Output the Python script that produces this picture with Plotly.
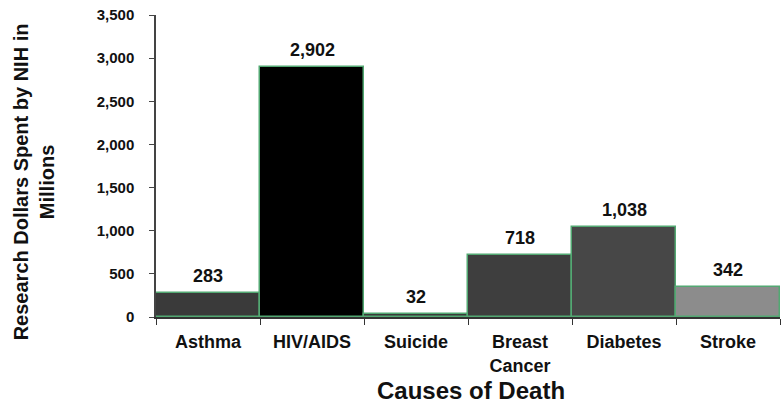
import plotly.graph_objects as go

categories = ["Asthma", "HIV/AIDS", "Suicide", "Breast Cancer", "Diabetes", "Stroke"]
tick_labels = ["Asthma", "HIV/AIDS", "Suicide", "Breast<br>Cancer", "Diabetes", "Stroke"]
values = [283, 2902, 32, 718, 1038, 342]
value_labels = ["283", "2,902", "32", "718", "1,038", "342"]
bar_colors = ["#3a3a3a", "#000000", "#3a3a3a", "#3e3e3e", "#474747", "#8c8c8c"]
x_title = "Causes of Death"
y_title = "Research Dollars Spent by NIH in<br>Millions"

FONT = "Liberation Sans, Arial, sans-serif"

fig = go.Figure()
fig.add_trace(go.Bar(
    x=categories, y=values,
    marker=dict(color=bar_colors, line=dict(color="#52a872", width=1.5)),
    width=1.0, hoverinfo="x+y",
))
for cat, val, lab in zip(categories, values, value_labels):
    fig.add_annotation(
        x=cat, y=val, text=lab, showarrow=False,
        xref="x", yref="y", yanchor="bottom", yshift=5,
        font=dict(family=FONT, size=18, color="#111111", weight="bold"),
    )

fig.update_layout(
    width=782, height=404,
    margin=dict(l=156, r=2, t=15, b=87),
    paper_bgcolor="white", plot_bgcolor="white",
    bargap=0, showlegend=False,
    font=dict(family=FONT, color="#111111"),
)
fig.update_xaxes(
    type="category", categoryorder="array", categoryarray=categories,
    tickmode="array", tickvals=categories, ticktext=tick_labels,
    tickson="boundaries", ticks="outside", ticklen=6, tickcolor="#333333",
    showline=True, linecolor="#333333", linewidth=1.5,
    showgrid=False, zeroline=False,
    tickfont=dict(family=FONT, size=18, color="#111111", weight="bold"),
    ticklabelstandoff=8,
    range=[-0.5, 5.5],
)
fig.update_yaxes(
    range=[0, 3500], dtick=500, tickformat=",",
    ticks="outside", ticklen=5, tickcolor="#444444",
    showline=True, linecolor="#444444", linewidth=1.5,
    showgrid=False, zeroline=False,
    tickfont=dict(family=FONT, size=15, color="#111111", weight="bold"),
    ticklabelstandoff=12,
)
fig.add_annotation(
    text=x_title, xref="paper", yref="paper", x=0.505, y=-0.243,
    xanchor="center", yanchor="middle", showarrow=False, borderpad=0,
    font=dict(family=FONT, size=24, color="#111111", weight="bold"),
)
fig.add_annotation(
    text=y_title,
    xref="paper", yref="paper", x=-0.195, y=0.447,
    xanchor="center", yanchor="middle",
    textangle=-90, showarrow=False,
    font=dict(family=FONT, size=20, color="#111111", weight="bold"),
)
fig.write_html("out.html")
